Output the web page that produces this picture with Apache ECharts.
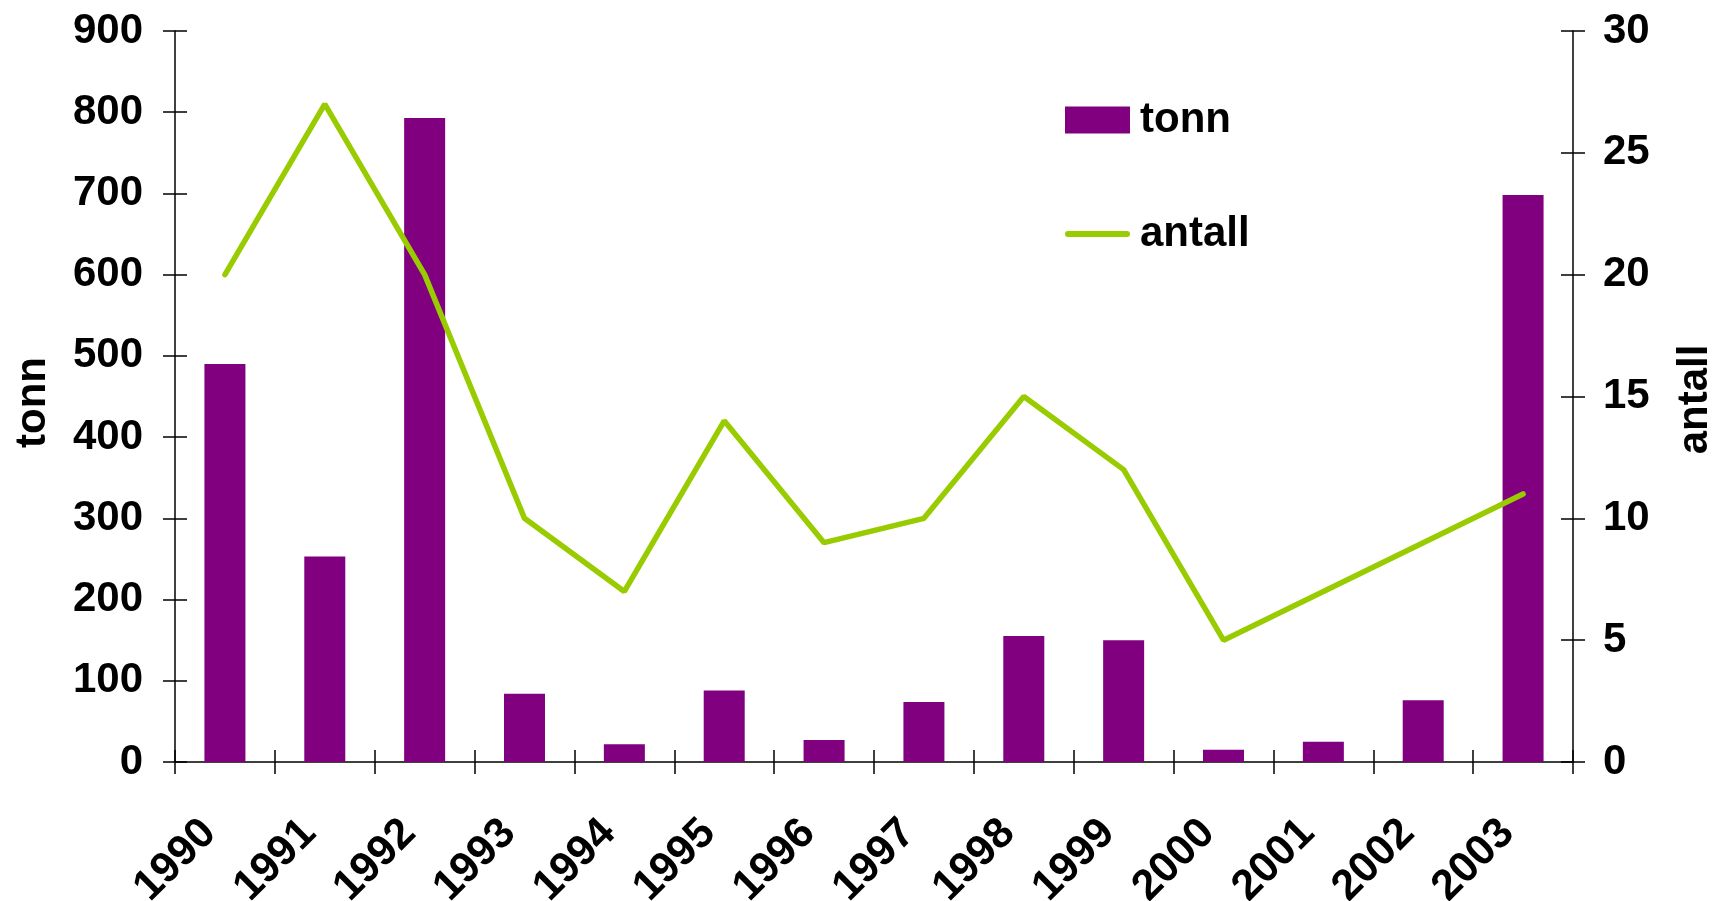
<!DOCTYPE html>
<html>
<head>
<meta charset="utf-8">
<script src="https://cdn.jsdelivr.net/npm/echarts@6/dist/echarts.min.js"></script>
<style>
  html, body { margin: 0; padding: 0; background: #fff; }
  #chart { width: 1715px; height: 901px; }
</style>
</head>
<body>
<div id="chart"></div>
<script>
// data
const years = ['1990', '1991', '1992', '1993', '1994', '1995', '1996', '1997', '1998', '1999', '2000', '2001', '2002', '2003']
const tonn = [490, 253, 793, 84, 22, 88, 27, 74, 155, 150, 15, 25, 76, 698]
const antall = [20, 27, 20, 10, 7, 14, 9, 10, 15, 12, 5, 7, 9, 11]
const leftTicks = { min: 0, max: 900, interval: 100 }
const rightTicks = { min: 0, max: 30, interval: 5 }

const font = 'Liberation Sans, Arial, sans-serif'
const purple = '#800080'
const green = '#99cc00'
const axisLine = { show: true, lineStyle: { color: '#000', width: 1.5 } }
const tickOut = { show: true, length: 12, lineStyle: { color: '#000', width: 1.5 } }
const tickIn = { show: true, inside: true, length: 12, lineStyle: { color: '#000', width: 1.5 } }
const labelStyle = { color: '#000', fontFamily: font, fontWeight: 'bold', fontSize: 42 }

// legend line icon: thin rounded bar centred in the 65x27 icon box
const lineIcon = 'path://M0,0L0.01,0M0,27L0.01,27M3,10.5H62A3,3 0 0 1 62,16.5H3A3,3 0 0 1 3,10.5Z'

const chart = echarts.init(document.getElementById('chart'))
chart.setOption({
  animation: false,
  grid: { left: 175, right: 142, top: 31, bottom: 139, containLabel: false, outerBoundsMode: 'none' },
  legend: {
    orient: 'vertical',
    left: 1060,
    top: 94,
    itemWidth: 65,
    itemHeight: 27,
    itemGap: 72,
    textStyle: { ...labelStyle, padding: [0, 0, 0, 5] },
    data: [{ name: 'tonn', icon: 'rect' }, { name: 'antall', icon: lineIcon }]
  },
  xAxis: [
    {
      type: 'category',
      data: years,
      axisLine: axisLine,
      axisTick: tickOut,
      axisLabel: { ...labelStyle, fontSize: 43, rotate: 45, margin: 49, padding: [0, 22, 0, 0], interval: 0 },
      splitLine: { show: false }
    },
    {
      // inner half of the crossing ticks
      type: 'category',
      position: 'bottom',
      data: years,
      axisLine: { show: false },
      axisTick: tickIn,
      axisLabel: { show: false },
      splitLine: { show: false }
    }
  ],
  yAxis: [
    {
      type: 'value',
      position: 'left',
      ...leftTicks,
      name: 'tonn',
      nameLocation: 'middle',
      nameRotate: 90,
      nameGap: 121,
      nameTextStyle: { ...labelStyle, padding: [0, 12, 0, 0] },
      axisLine: axisLine,
      axisTick: tickOut,
      axisLabel: { ...labelStyle, margin: 32 },
      splitLine: { show: false }
    },
    {
      type: 'value',
      position: 'right',
      ...rightTicks,
      name: 'antall',
      nameLocation: 'middle',
      nameRotate: 90,
      nameGap: 101,
      nameTextStyle: { ...labelStyle, padding: [0, 6, 0, 0] },
      axisLine: axisLine,
      axisTick: tickOut,
      axisLabel: { ...labelStyle, margin: 30 },
      splitLine: { show: false }
    },
    {
      type: 'value',
      position: 'left',
      ...leftTicks,
      axisLine: { show: false },
      axisTick: tickIn,
      axisLabel: { show: false },
      splitLine: { show: false }
    },
    {
      type: 'value',
      position: 'right',
      ...rightTicks,
      axisLine: { show: false },
      axisTick: tickIn,
      axisLabel: { show: false },
      splitLine: { show: false }
    }
  ],
  series: [
    {
      name: 'tonn',
      type: 'bar',
      xAxisIndex: 0,
      yAxisIndex: 0,
      data: tonn,
      barWidth: 41,
      itemStyle: { color: purple }
    },
    {
      name: 'antall',
      type: 'line',
      xAxisIndex: 0,
      yAxisIndex: 1,
      data: antall,
      symbol: 'none',
      itemStyle: { color: green },
      lineStyle: { color: green, width: 5.5, cap: 'round' }
    }
  ]
})
</script>
</body>
</html>
